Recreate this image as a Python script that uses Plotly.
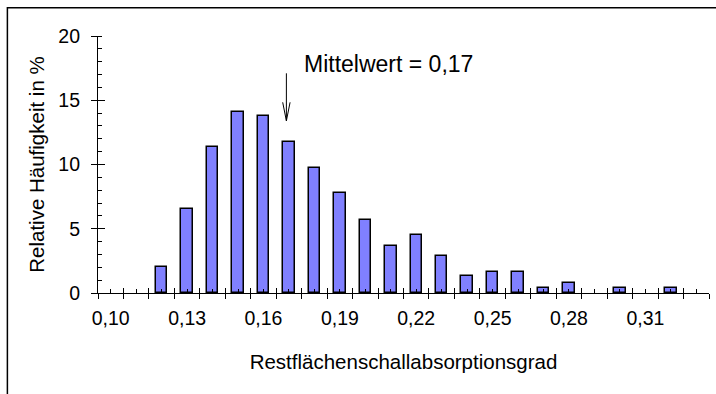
import plotly.graph_objects as go

# ---- data ----
bin_centers = [0.12, 0.13, 0.14, 0.15, 0.16, 0.17, 0.18, 0.19, 0.20, 0.21, 0.22,
               0.23, 0.24, 0.25, 0.26, 0.27, 0.28, 0.29, 0.30, 0.31, 0.32]
rel_freq = [2.0, 6.5, 11.35, 14.05, 13.75, 11.75, 9.7, 7.8, 5.65, 3.65, 4.5,
            2.9, 1.3, 1.65, 1.65, 0.4, 0.8, 0.0, 0.4, 0.0, 0.4]
category_centers = [round(0.10 + 0.01 * i, 2) for i in range(24)]      # 0.10 ... 0.33
category_bounds = [round(0.095 + 0.01 * i, 3) for i in range(25)]      # 0.095 ... 0.335
x_label_vals = [0.10, 0.13, 0.16, 0.19, 0.22, 0.25, 0.28, 0.31]
x_label_text = ["0,10", "0,13", "0,16", "0,19", "0,22", "0,25", "0,28", "0,31"]
y_major = [0, 5, 10, 15, 20]
mean_x = 0.169
mean_text = "Mittelwert = 0,17"

FONT = "Arial, Liberation Sans, sans-serif"
FS_TICK = 19.5
FS_TITLE = 20.5
FS_NOTE = 23
XR = [0.095, 0.335]
YR = [0, 20]

fig = go.Figure()
fig.add_trace(go.Bar(
    x=bin_centers, y=rel_freq, width=0.0045,
    marker=dict(color="#8080FF",
                line=dict(color="black", width=[1.5 if v > 0 else 0 for v in rel_freq])),
    showlegend=False, hoverinfo="skip",
))
# invisible helpers so the overlay axes get drawn
for xa, ya in (("x2", "y"), ("x3", "y"), ("x", "y2")):
    fig.add_trace(go.Scatter(x=[0.2], y=[0], xaxis=xa, yaxis=ya, mode="markers",
                             marker=dict(opacity=0), showlegend=False, hoverinfo="skip"))

axis_common = dict(showgrid=False, zeroline=False, tickcolor="black", tickwidth=1.2)

fig.update_layout(
    width=716, height=394,
    margin=dict(l=98, r=6.5, t=35.5, b=101.3),
    paper_bgcolor="white", plot_bgcolor="white",
    font=dict(family=FONT, size=FS_TICK, color="black"),
    xaxis=dict(range=XR, showline=True, linecolor="black", linewidth=1.2,
               tickmode="array", tickvals=category_bounds, ticks="outside", ticklen=5,
               showticklabels=False,
               minor=dict(tickmode="array", tickvals=category_centers, ticks="inside",
                          ticklen=4, tickwidth=1.2, tickcolor="black"),
               **axis_common),
    xaxis2=dict(range=XR, overlaying="x", anchor="y", showline=False,
                tickmode="array", tickvals=category_bounds, ticks="inside", ticklen=5,
                showticklabels=False, **axis_common),
    xaxis3=dict(range=XR, overlaying="x", anchor="y", showline=False,
                tickmode="array", tickvals=x_label_vals, ticktext=x_label_text,
                ticks="outside", ticklen=8, tickcolor="rgba(0,0,0,0)",
                showgrid=False, zeroline=False,
                title=dict(text="Restflächenschallabsorptionsgrad", standoff=26,
                           font=dict(size=FS_TITLE))),
    yaxis=dict(range=YR, showline=True, linecolor="black", linewidth=1.2,
               tickmode="array", tickvals=y_major, ticks="outside", ticklen=6,
               ticklabelstandoff=7,
               minor=dict(tickmode="linear", tick0=0, dtick=1, ticks="inside",
                          ticklen=4, tickwidth=1.2, tickcolor="black"),
               title=dict(text="Relative Häufigkeit in %", standoff=8,
                          font=dict(size=FS_TITLE)),
               **axis_common),
    yaxis2=dict(range=YR, overlaying="y", anchor="x", showline=False,
                tickmode="array", tickvals=y_major, ticks="inside", ticklen=7,
                showticklabels=False, **axis_common),
    bargap=0,
)

# outer frame (partly cropped in the reference)
fig.add_shape(type="rect", xref="paper", yref="paper",
              x0=-0.1483, x1=1.05, y0=-0.5, y1=1.1096,
              line=dict(color="black", width=1.5), fillcolor="rgba(0,0,0,0)", layer="below")

# mean arrow: shaft and open V head, anchored at the mean position
tip_y = 13.4
fig.add_annotation(x=mean_x, y=tip_y, xref="x", yref="y", ax=0, ay=-49,
                   showarrow=True, arrowhead=0, arrowwidth=1, arrowcolor="black", text="")
for dx in (-4, 4):
    fig.add_annotation(x=mean_x, y=tip_y, xref="x", yref="y", ax=dx, ay=-20,
                       showarrow=True, arrowhead=0, arrowwidth=1, arrowcolor="black", text="")
fig.add_annotation(x=0.1755, y=17.82, xref="x", yref="y", text=mean_text,
                   showarrow=False, xanchor="left", yanchor="middle", borderpad=0,
                   font=dict(size=FS_NOTE, family=FONT, color="black"))

fig.write_html("out.html", config={"displayModeBar": False},
               post_script="document.body.style.margin='0px';")
